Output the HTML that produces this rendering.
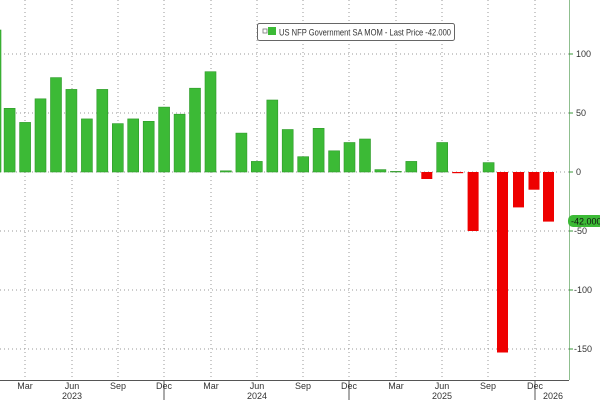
<!DOCTYPE html>
<html><head><meta charset="utf-8"><style>
html,body{margin:0;padding:0;background:#fff}
svg{display:block}
text{font-family:"Liberation Sans",sans-serif;font-size:9px;fill:#333}
</style></head><body>
<svg width="600" height="400" xmlns="http://www.w3.org/2000/svg">
<rect width="600" height="400" fill="#fff"/>
<g stroke="#999" stroke-width="1" stroke-dasharray="1,3">
<line x1="0" y1="54" x2="569" y2="54"/>
<line x1="0" y1="113" x2="569" y2="113"/>
<line x1="0" y1="172" x2="569" y2="172"/>
<line x1="0" y1="231" x2="569" y2="231"/>
<line x1="0" y1="290" x2="569" y2="290"/>
<line x1="0" y1="349" x2="569" y2="349"/>
<line x1="25" y1="0" x2="25" y2="380"/>
<line x1="72" y1="0" x2="72" y2="380"/>
<line x1="118" y1="0" x2="118" y2="380"/>
<line x1="164" y1="0" x2="164" y2="380"/>
<line x1="211" y1="0" x2="211" y2="380"/>
<line x1="257" y1="0" x2="257" y2="380"/>
<line x1="303" y1="0" x2="303" y2="380"/>
<line x1="349" y1="0" x2="349" y2="380"/>
<line x1="396" y1="0" x2="396" y2="380"/>
<line x1="442" y1="0" x2="442" y2="380"/>
<line x1="488" y1="0" x2="488" y2="380"/>
<line x1="535" y1="0" x2="535" y2="380"/>
</g>
<g fill="#3cba36" stroke="#2e9a2a" stroke-width="0.6">
<rect x="-4" y="30" width="5" height="142"/>
<rect x="4.1" y="108.3" width="11" height="63.7"/>
<rect x="19.6" y="122.4" width="11" height="49.6"/>
<rect x="35" y="98.8" width="11" height="73.2"/>
<rect x="50.5" y="77.6" width="11" height="94.4"/>
<rect x="65.9" y="89.4" width="11" height="82.6"/>
<rect x="81.4" y="118.9" width="11" height="53.1"/>
<rect x="96.8" y="89.4" width="11" height="82.6"/>
<rect x="112.3" y="123.6" width="11" height="48.4"/>
<rect x="127.7" y="118.9" width="11" height="53.1"/>
<rect x="143.2" y="121.3" width="11" height="50.7"/>
<rect x="158.6" y="107.1" width="11" height="64.9"/>
<rect x="174.1" y="114.2" width="11" height="57.8"/>
<rect x="189.5" y="88.2" width="11" height="83.8"/>
<rect x="205" y="71.7" width="11" height="100.3"/>
<rect x="220.4" y="170.8" width="11" height="1.2"/>
<rect x="235.9" y="133.1" width="11" height="38.9"/>
<rect x="251.3" y="161.4" width="11" height="10.6"/>
<rect x="266.8" y="100" width="11" height="72"/>
<rect x="282.2" y="129.5" width="11" height="42.5"/>
<rect x="297.7" y="156.7" width="11" height="15.3"/>
<rect x="313.1" y="128.3" width="11" height="43.7"/>
<rect x="328.6" y="150.8" width="11" height="21.2"/>
<rect x="344" y="142.5" width="11" height="29.5"/>
<rect x="359.5" y="139" width="11" height="33"/>
<rect x="374.9" y="169.6" width="11" height="2.4"/>
<rect x="390.4" y="171.4" width="11" height="0.6"/>
<rect x="405.8" y="161.4" width="11" height="10.6"/>
<rect x="436.7" y="142.5" width="11" height="29.5"/>
<rect x="483.1" y="162.6" width="11" height="9.4"/>
</g>
<g fill="#ee0000">
<rect x="421.3" y="172" width="11" height="7"/>
<rect x="452.2" y="172" width="11" height="1.2"/>
<rect x="467.6" y="172" width="11" height="59"/>
<rect x="497" y="172" width="11" height="180.5"/>
<rect x="513" y="172" width="11" height="35.4"/>
<rect x="528.5" y="172" width="11" height="17.7"/>
<rect x="543" y="172" width="11" height="49.6"/>
</g>
<line x1="569.5" y1="0" x2="569.5" y2="380" stroke="#8fbf8f" stroke-width="1"/>
<line x1="0" y1="380.5" x2="569" y2="380.5" stroke="#555" stroke-width="1"/>
<g stroke="#3a9a3a" stroke-width="1">
<line x1="569" y1="54" x2="573" y2="54"/><line x1="569" y1="113" x2="573" y2="113"/>
<line x1="569" y1="172" x2="573" y2="172"/><line x1="569" y1="231" x2="573" y2="231"/>
<line x1="569" y1="290" x2="573" y2="290"/><line x1="569" y1="349" x2="573" y2="349"/>
</g>
<g>
<text x="576" y="57">100</text><text x="576" y="116">50</text><text x="576" y="175">0</text>
<text x="574" y="234">-50</text><text x="574" y="293">-100</text><text x="574" y="352">-150</text>
</g>
<rect x="568" y="215" width="36" height="12" rx="5" fill="#3cba36"/>
<text x="571" y="224.5" style="fill:#111">-42.000</text>
<g stroke="#555" stroke-width="1">
<line x1="164" y1="380" x2="164" y2="400"/><line x1="349" y1="380" x2="349" y2="400"/><line x1="535" y1="380" x2="535" y2="400"/>
</g>
<g text-anchor="middle">
<text x="25" y="389">Mar</text><text x="72" y="389">Jun</text><text x="118" y="389">Sep</text><text x="164" y="389">Dec</text>
<text x="211" y="389">Mar</text><text x="257" y="389">Jun</text><text x="303" y="389">Sep</text><text x="349" y="389">Dec</text>
<text x="396" y="389">Mar</text><text x="442" y="389">Jun</text><text x="488" y="389">Sep</text><text x="535" y="389">Dec</text>
<text x="72" y="399">2023</text><text x="257" y="399">2024</text><text x="442" y="399">2025</text><text x="553" y="399">2026</text>
</g>
<rect x="257.5" y="23.5" width="197" height="17" rx="2" fill="#fff" stroke="#666" stroke-width="1"/>
<rect x="263" y="29" width="4" height="4" fill="none" stroke="#777" stroke-width="0.8"/>
<rect x="268" y="27" width="8" height="8" fill="#3cba36"/>
<text x="279" y="35.5" textLength="172" lengthAdjust="spacingAndGlyphs">US NFP Government SA MOM - Last Price -42.000</text>
</svg>
</body></html>
